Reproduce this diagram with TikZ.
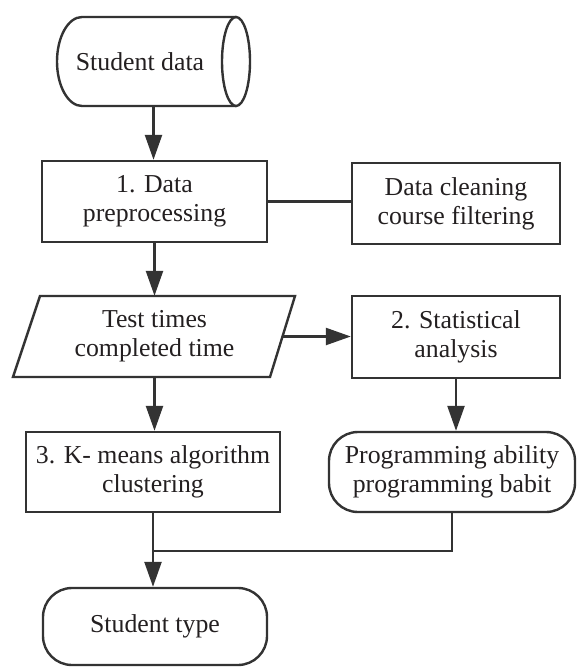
\documentclass[tikz,border=0pt]{standalone}
\usepackage{fontspec}
\setmainfont{Liberation Serif}
\usetikzlibrary{arrows.meta,calc}
\definecolor{ln}{HTML}{333333}
\definecolor{tx}{HTML}{231F20}
\begin{document}
\begin{tikzpicture}[x=1pt,y=1pt,
  every node/.style={font=\fontsize{25.8}{29}\selectfont, text=tx, align=center, inner sep=0pt},
  box/.style={draw=ln, line width=2.4pt, rectangle},
  term/.style={draw=ln, line width=2.4pt, rectangle, rounded corners=29pt},
  ghost/.style={rectangle},
  conn/.style={draw=ln, line width=2.4pt},
  arr/.style={conn, -{Triangle[length=25pt,width=17pt]}}]
\useasboundingbox (0,0) rectangle (576,-667);
% cylinder (Student data)
\draw[ln, line width=2.4pt, fill=white] (236,-17) -- (82,-17)
  arc[start angle=90, end angle=270, x radius=25pt, y radius=44.5pt] -- (236,-106);
\draw[ln, line width=2.4pt] (236,-61.5) ellipse [x radius=14pt, y radius=44.5pt];
\node[ghost, minimum width=193pt, minimum height=89pt] (sd) at (153.5,-61.5) {};
\node at (140,-61.5) {Student data};
% step 1
\node[box, minimum width=225pt, minimum height=81pt] (pre) at (154.5,-201.5) {1. Data\\preprocessing};
\node[box, minimum width=208pt, minimum height=81pt] (clean) at (456,-203.5) {Data cleaning\\course filtering};
% parallelogram
\draw[ln, line width=2.4pt] (40,-296) -- (295,-296) -- (270,-377) -- (13,-377) -- cycle;
\node[ghost, minimum width=256pt, minimum height=81pt] (test) at (154.5,-336.5) {Test times\\completed time};
\node[box, minimum width=208pt, minimum height=82pt] (stat) at (456,-337) {2. Statistical\\analysis};
% step 3
\node[box, minimum width=254pt, minimum height=80pt] (km) at (153,-472) {3. K- means algorithm\\clustering};
\node[term, minimum width=246pt, minimum height=80pt] (prog) at (452,-472) {Programming ability\\programming babit};
\node[term, minimum width=224pt, minimum height=77pt] (type) at (155,-626.5) {Student type};
% connectors
\draw[arr] (sd.south) -- (sd.south |- pre.north);
\draw[conn] (pre.east) -- (pre.east -| clean.west);
\draw[arr] (pre.south) -- (pre.south |- test.north);
\draw[arr] (test.east) -- (test.east -| stat.west);
\draw[arr] (test.south) -- (test.south |- km.north);
\draw[arr] (stat.south) -- (stat.south |- prog.north);
\coordinate (mj) at ($(prog.south)+(0,-38)$);
\draw[arr] (km.south) -- (km.south |- type.north);
\draw[conn] (prog.south) |- (km.south |- mj);
\end{tikzpicture}
\end{document}
